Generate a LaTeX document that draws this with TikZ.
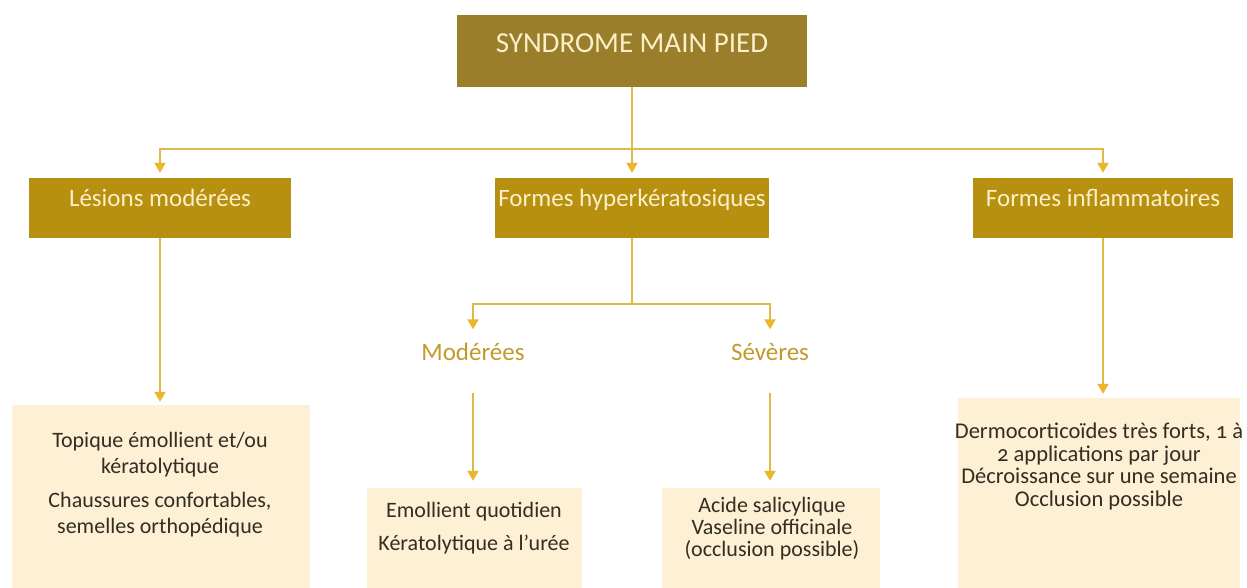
\documentclass[tikz,border=0pt]{standalone}
\usepackage{fontspec}
\setmainfont{Carlito}
\usetikzlibrary{arrows.meta}
\definecolor{topboxc}{HTML}{9B7E2B}
\definecolor{midboxc}{HTML}{B8900F}
\definecolor{lightboxc}{HTML}{FDF0D4}
\definecolor{connc}{HTML}{DDBB4A}
\definecolor{tipc}{HTML}{EDB52A}
\definecolor{creamc}{HTML}{FBEFC8}
\definecolor{goldtxtc}{HTML}{C29A2A}
\definecolor{bodytxtc}{HTML}{332D22}
\begin{document}
\begin{tikzpicture}[x=1pt,y=-1pt,
  linkline/.style={draw=connc, line width=2pt},
  linkarrow/.style={draw=connc, line width=2pt, -{Triangle[width=11pt,length=10pt,color=tipc]}},
  topbox/.style={fill=topboxc, text=creamc, minimum width=350pt, minimum height=72pt, inner sep=0pt, text height=18pt, text depth=14pt, font=\fontsize{29}{34}\selectfont},
  midbox/.style={fill=midboxc, text=creamc, minimum height=60pt, inner sep=0pt, text height=17pt, text depth=19pt, font=\fontsize{25}{30}\selectfont},
  sublabel/.style={text=goldtxtc, inner sep=0pt, text height=18pt, text depth=5pt, font=\fontsize{25}{30}\selectfont},
  lightbox/.style={fill=lightboxc, inner sep=0pt},
  bodytext/.style={text=bodytxtc, align=center, inner sep=0pt}
]
\useasboundingbox (0,0) rectangle (1247,588);
\fill[white] (0,0) rectangle (1247,588);

% top
\node[topbox] (top) at (632,51) {SYNDROME MAIN PIED};

% second level
\node[midbox, minimum width=262pt] (les) at (160,208) {Lésions modérées};
\node[midbox, minimum width=274pt] (hyp) at (632,208) {Formes hyperkératosiques};
\node[midbox, minimum width=260pt] (inf) at (1103,208) {Formes inflammatoires};

% sub labels
\node[sublabel] (mod) at (473,354) {Modérées};
\node[sublabel] (sev) at (770,354) {Sévères};

% bottom boxes
\node[lightbox, minimum width=298pt, minimum height=183pt] (b1) at (161,496.5) {};
\node[lightbox, minimum width=215pt, minimum height=100pt] (b2) at (474.5,538) {};
\node[lightbox, minimum width=218pt, minimum height=100pt] (b3) at (771,538) {};
\node[lightbox, minimum width=282pt, minimum height=190pt] (b4) at (1099,493) {};

% texts
\node[bodytext, font=\fontsize{22}{26}\selectfont] (t1) at (160,485)
  {Topique émollient et/ou\\kératolytique\\[8pt]Chaussures confortables,\\semelles orthopédique};
\node[bodytext, font=\fontsize{22}{25}\selectfont] (t2) at (474,528.5)
  {Emollient quotidien\\[8pt]Kératolytique à l’urée};
\node[bodytext, font=\fontsize{22}{22}\selectfont] (t3) at (772,528.5)
  {Acide salicylique\\Vaseline officinale\\(occlusion possible)};
\node[bodytext, font=\fontsize{22.5}{22.5}\selectfont\addfontfeature{Numbers=OldStyle}] (t4) at (1099,466.5)
  {Dermocorticoïdes très forts, 1 à\\2 applications par jour\\Décroissance sur une semaine\\Occlusion possible};

% connectors
\coordinate (j1) at (632,149);
\coordinate (j2) at (632,304);
\path[linkline] (top.south) -- (j1);
\path[linkarrow, shorten >=5pt] (j1) -| (les.north);
\path[linkarrow, shorten >=5pt] (j1) -- (hyp.north);
\path[linkarrow, shorten >=5pt] (j1) -| (inf.north);

\path[linkline] (hyp.south) -- (j2);
\path[linkarrow, shorten >=13pt] (j2) -| (mod.north);
\path[linkarrow, shorten >=13pt] (j2) -| (sev.north);

\path[linkarrow, shorten >=3pt] (les.south) -- (les.south |- b1.north);
\path[linkarrow, shorten >=4pt] (inf.south) -- (inf.south |- b4.north);
\path[linkarrow, shorten <=27pt, shorten >=7pt] (mod.south) -- (mod.south |- b2.north);
\path[linkarrow, shorten <=27pt, shorten >=7pt] (sev.south) -- (sev.south |- b3.north);
\end{tikzpicture}
\end{document}
